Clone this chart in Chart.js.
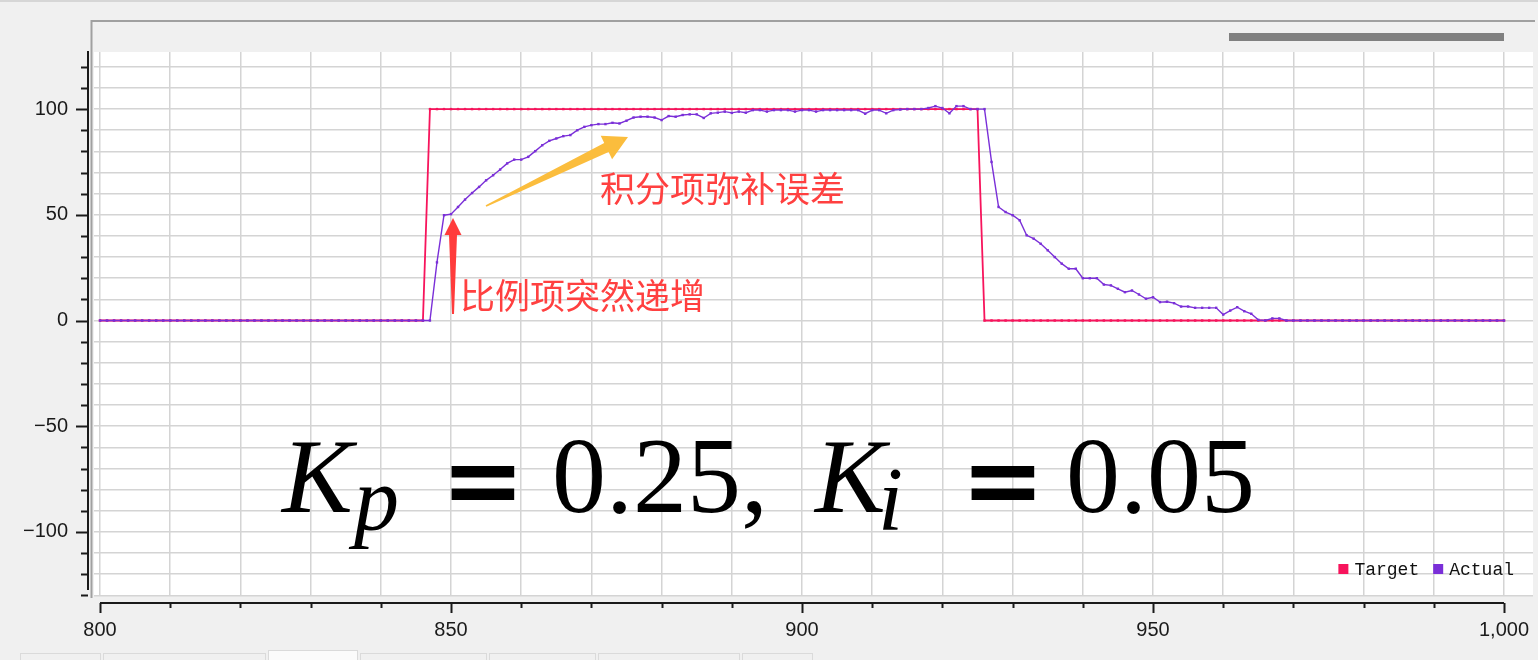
<!DOCTYPE html>
<html>
<head>
<meta charset="utf-8">
<script src="https://cdn.jsdelivr.net/npm/chart.js@4.4.0/dist/chart.umd.min.js"></script>
<style>
  html, body { margin: 0; padding: 0; background: #f0f0f0; overflow: hidden; }
  canvas { display: block; }
</style>
</head>
<body>
<canvas id="chart" width="1538" height="660"></canvas>
<script>
// sample index (x axis)
const steps = [
  800,801,802,803,804,805,806,807,808,809, 810,811,812,813,814,815,816,817,818,819,
  820,821,822,823,824,825,826,827,828,829, 830,831,832,833,834,835,836,837,838,839,
  840,841,842,843,844,845,846,847,848,849, 850,851,852,853,854,855,856,857,858,859,
  860,861,862,863,864,865,866,867,868,869, 870,871,872,873,874,875,876,877,878,879,
  880,881,882,883,884,885,886,887,888,889, 890,891,892,893,894,895,896,897,898,899,
  900,901,902,903,904,905,906,907,908,909, 910,911,912,913,914,915,916,917,918,919,
  920,921,922,923,924,925,926,927,928,929, 930,931,932,933,934,935,936,937,938,939,
  940,941,942,943,944,945,946,947,948,949, 950,951,952,953,954,955,956,957,958,959,
  960,961,962,963,964,965,966,967,968,969, 970,971,972,973,974,975,976,977,978,979,
  980,981,982,983,984,985,986,987,988,989, 990,991,992,993,994,995,996,997,998,999,
  1000
];

const target = [
  0,0,0,0,0,0,0,0,0,0, 0,0,0,0,0,0,0,0,0,0,
  0,0,0,0,0,0,0,0,0,0, 0,0,0,0,0,0,0,0,0,0,
  0,0,0,0,0,0,0,100,100,100, 100,100,100,100,100,100,100,100,100,100,
  100,100,100,100,100,100,100,100,100,100, 100,100,100,100,100,100,100,100,100,100,
  100,100,100,100,100,100,100,100,100,100, 100,100,100,100,100,100,100,100,100,100,
  100,100,100,100,100,100,100,100,100,100, 100,100,100,100,100,100,100,100,100,100,
  100,100,100,100,100,100,0,0,0,0, 0,0,0,0,0,0,0,0,0,0,
  0,0,0,0,0,0,0,0,0,0, 0,0,0,0,0,0,0,0,0,0,
  0,0,0,0,0,0,0,0,0,0, 0,0,0,0,0,0,0,0,0,0,
  0,0,0,0,0,0,0,0,0,0, 0,0,0,0,0,0,0,0,0,0,
  0
];

const actual = [
  0,0,0,0,0,0,0,0,0,0, 0,0,0,0,0,0,0,0,0,0,
  0,0,0,0,0,0,0,0,0,0, 0,0,0,0,0,0,0,0,0,0,
  0,0,0,0,0,0,0,0,27.5,49.8, 50.3,53.7,57.2,60.3,63.2,66.3,68.7,71.4,74.3,76.1,
  76.1,77.4,80.1,82.9,85.0,86.1,87.2,87.7,90.0,91.6, 92.4,92.9,92.9,93.5,93.2,94.5,96.0,96.4,96.4,96.0,
  94.8,96.7,96.4,97.2,97.5,97.5,95.8,98.0,98.3,98.8, 98.2,98.8,98.3,99.5,99.5,98.8,99.5,99.5,99.5,98.8,
  99.5,99.5,98.8,99.5,99.5,99.5,99.5,99.5,99.5,97.8, 99.5,99.5,98.0,99.5,99.8,100,100,100,100.5,101.4,
  100.5,98.0,101.4,101.4,100,100,100,75.0,53.7,51.3, 49.8,47.4,40.3,38.7,36.3,33.2,30.0,26.9,24.5,24.5,
  20.0,20.0,20.0,17.0,16.6,15.0,13.4,14.2,12.3,10.3, 11.0,8.7,8.9,8.2,6.6,6.6,6.0,6.0,6.0,6.0,
  2.8,4.7,6.3,4.4,3.2,0.3,0,1.0,1.0,0, 0,0,0,0,0,0,0,0,0,0,
  0,0,0,0,0,0,0,0,0,0, 0,0,0,0,0,0,0,0,0,0,
  0
];

const seriesNames = ['Target', 'Actual'];
const seriesColors = ['#f7145c', '#7a2fd8'];
const xTickLabels = [800, 850, 900, 950, 1000];
const yTickLabels = [-100, -50, 0, 50, 100];

const AXIS_FONT = '"Liberation Sans", Arial, sans-serif';

// arrow drawn as a tapered polygon from tail to tip
function taperArrow(ctx, tail, tip, tailW, shaftW, headW, headL) {
  const dx = tip[0] - tail[0], dy = tip[1] - tail[1];
  const L = Math.hypot(dx, dy), ux = dx / L, uy = dy / L, nx = -uy, ny = ux;
  const bx = tip[0] - headL * ux, by = tip[1] - headL * uy;
  ctx.beginPath();
  ctx.moveTo(tail[0] + tailW * nx, tail[1] + tailW * ny);
  ctx.lineTo(bx + shaftW * nx, by + shaftW * ny);
  ctx.lineTo(bx + headW * nx, by + headW * ny);
  ctx.lineTo(tip[0], tip[1]);
  ctx.lineTo(bx - headW * nx, by - headW * ny);
  ctx.lineTo(bx - shaftW * nx, by - shaftW * ny);
  ctx.lineTo(tail[0] - tailW * nx, tail[1] - tailW * ny);
  ctx.closePath();
  ctx.fill();
}

const frame = {
  id: 'frame',
  beforeDraw(chart) {
    const { ctx, chartArea: a, width, height } = chart;
    ctx.save();
    ctx.fillStyle = '#f0f0f0';
    ctx.fillRect(0, 0, width, height);
    ctx.fillStyle = '#d6d6d6';
    ctx.fillRect(0, 0, width, 2);
    // panel border
    ctx.strokeStyle = '#a0a0a0';
    ctx.lineWidth = 2;
    ctx.beginPath();
    ctx.moveTo(91.5, 598); ctx.lineTo(91.5, 21); ctx.lineTo(1535, 21);
    ctx.stroke();
    // scroll bar
    ctx.fillStyle = '#808080';
    ctx.fillRect(1229, 33, 275, 8);
    // plot background
    ctx.fillStyle = '#ffffff';
    ctx.fillRect(a.left, a.top, a.width, a.height);
    // tabs along the bottom
    const tabs = [[20, 100], [103, 265], [268, 357], [360, 486], [489, 595], [598, 739], [742, 812]];
    tabs.forEach(([x0, x1], i) => {
      const top = i === 2 ? 650 : 653;
      ctx.fillStyle = i === 2 ? '#fbfbfb' : '#f0f0f0';
      ctx.fillRect(x0, top, x1 - x0, 12);
      ctx.strokeStyle = '#dadada';
      ctx.lineWidth = 1;
      ctx.strokeRect(x0 + 0.5, top + 0.5, x1 - x0, 12);
    });
    ctx.restore();
  },
  afterDraw(chart) {
    const { ctx, scales: { x, y }, chartArea: a } = chart;
    ctx.save();
    ctx.strokeStyle = '#1a1a1a';
    ctx.lineWidth = 2;
    // y axis, drawn left of the plot
    const ax = 88;
    ctx.beginPath();
    ctx.moveTo(ax, a.top - 1); ctx.lineTo(ax, 590);
    y.ticks.forEach(t => {
      const py = Math.round(y.getPixelForValue(t.value)) + 0.5;
      const len = yTickLabels.includes(t.value) ? 12 : 7;
      ctx.moveTo(ax, py); ctx.lineTo(ax - len, py);
    });
    ctx.stroke();
    // x axis, drawn below the plot
    const ay = 603;
    ctx.beginPath();
    ctx.moveTo(x.getPixelForValue(xTickLabels[0]), ay);
    ctx.lineTo(x.getPixelForValue(xTickLabels[xTickLabels.length - 1]), ay);
    x.ticks.forEach(t => {
      const px = Math.round(x.getPixelForValue(t.value)) + 0.5;
      const len = xTickLabels.includes(t.value) ? 10 : 5;
      ctx.moveTo(px, ay); ctx.lineTo(px, ay + len);
    });
    ctx.stroke();

    // legend
    ctx.font = '18px "Liberation Mono", monospace';
    ctx.textBaseline = 'middle';
    ctx.textAlign = 'left';
    const items = chart.data.datasets.map(d => ({ label: d.label, color: d.borderColor, w: ctx.measureText(d.label).width }));
    const total = items.reduce((s, it) => s + 10 + 6 + it.w, 0) + 14 * (items.length - 1);
    let lx = 1514 - total;
    const ly = 569;
    items.forEach(it => {
      ctx.fillStyle = it.color;
      ctx.fillRect(lx, ly - 5, 10, 10);
      ctx.fillStyle = '#111';
      ctx.fillText(it.label, lx + 16, ly + 1);
      lx += 16 + it.w + 14;
    });

    // annotation arrows
    ctx.fillStyle = '#ff3c3c';
    taperArrow(ctx, [453, 314], [453, 218], 1, 4, 8.5, 17);
    ctx.fillStyle = '#fbbd3d';
    taperArrow(ctx, [486, 206], [628, 137], 0.8, 5, 13, 24);

    ctx.fillStyle = '#ff4040';
    ctx.font = '35px "Noto Sans CJK SC", sans-serif';
    ctx.textBaseline = 'middle';
    ctx.fillText('比例项突然递增', 460, 296);
    ctx.fillText('积分项弥补误差', 600, 189);

    // formula
    ctx.fillStyle = '#000';
    ctx.textBaseline = 'alphabetic';
    const serif = '"Liberation Serif", "DejaVu Serif", serif';
    ctx.font = 'italic 106px ' + serif;
    ctx.fillText('K', 282, 512);
    ctx.fillText('K', 815, 512);
    ctx.font = 'italic 90px ' + serif;
    ctx.fillText('p', 354, 530);
    ctx.fillText('i', 878, 530);
    ctx.font = 'bold 100px "DejaVu Sans", sans-serif';
    ctx.fillText('=', 441, 514);
    ctx.fillText('=', 961, 514);
    ctx.font = '108px ' + serif;
    ctx.fillText('0.25,', 552, 512);
    ctx.fillText('0.05', 1066, 512);
    ctx.restore();
  }
};

new Chart(document.getElementById('chart'), {
  type: 'line',
  data: {
    labels: steps,
    datasets: seriesNames.map((name, i) => ({
      label: name,
      data: i === 0 ? target : actual,
      borderColor: seriesColors[i],
      backgroundColor: seriesColors[i],
      pointBackgroundColor: seriesColors[i],
      borderWidth: i === 0 ? 1.8 : 1.4,
      pointStyle: 'rect',
      pointRadius: 1.7,
      pointBorderWidth: 0,
      pointHoverRadius: 0,
      tension: 0,
      order: i === 0 ? 1 : 0,
    }))
  },
  options: {
    responsive: false,
    animation: false,
    events: [],
    layout: { padding: { top: 52, right: 5, left: 0, bottom: 0 } },
    plugins: { legend: { display: false }, tooltip: { enabled: false } },
    scales: {
      x: {
        type: 'linear',
        min: 799.145,
        max: 1004.13,
        afterFit: s => { s.height = 64; s.paddingLeft = 0; s.paddingRight = 0; },
        border: { display: false },
        grid: { color: '#d4d4d4', lineWidth: 1.5, drawTicks: false },
        ticks: {
          stepSize: 10,
          includeBounds: false,
          autoSkip: false,
          maxRotation: 0,
          padding: 22,
          color: '#1a1a1a',
          font: { family: AXIS_FONT, size: 20 },
          callback: v => xTickLabels.includes(v) ? v.toLocaleString('en-US') : ''
        }
      },
      y: {
        min: -130.3,
        max: 127,
        afterFit: s => { s.width = 94; s.paddingTop = 0; s.paddingBottom = 0; },
        border: { display: false },
        grid: { color: '#d4d4d4', lineWidth: 1.5, drawTicks: false },
        ticks: {
          stepSize: 10,
          includeBounds: false,
          autoSkip: false,
          padding: 26,
          color: '#1a1a1a',
          font: { family: AXIS_FONT, size: 20 },
          callback: v => yTickLabels.includes(v) ? String(v).replace('-', '\u2212') : ''
        }
      }
    }
  },
  plugins: [frame]
});
</script>
</body>
</html>
